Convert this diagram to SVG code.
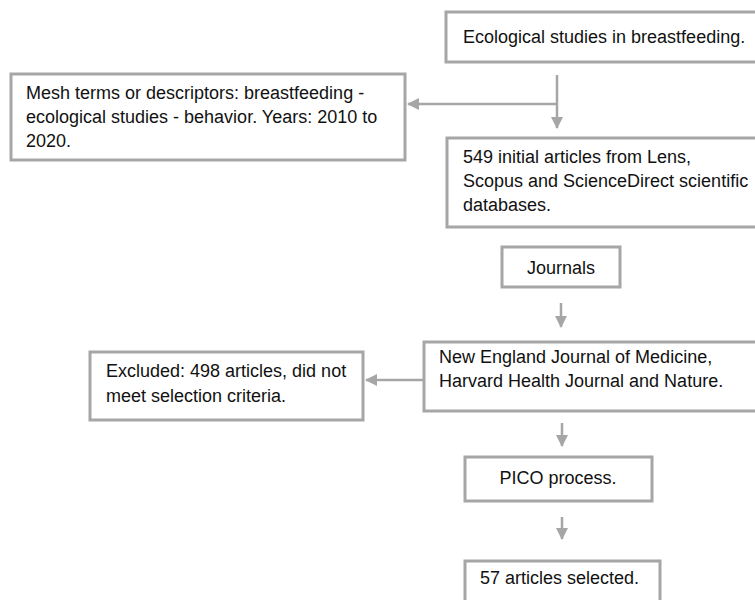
<svg xmlns="http://www.w3.org/2000/svg" width="755" height="600" viewBox="0 0 755 600">
<style>
.box{fill:#ffffff;stroke:#a6a6a6;stroke-width:3}
.t{font-family:"Liberation Sans",Arial,Helvetica,sans-serif;font-size:18px;fill:#111111}
.c{text-anchor:middle}
.conn{fill:none;stroke:#a6a6a6;stroke-width:2.5}
</style>
<defs>
<marker id="ah" markerUnits="userSpaceOnUse" markerWidth="12" markerHeight="12" viewBox="0 0 12 12" refX="11" refY="6" orient="auto">
<path d="M0,0 L12,6 L0,12 Z" fill="#a6a6a6"/>
</marker>
</defs>
<rect width="755" height="600" fill="#ffffff"/>
<g id="connectors">
<path class="conn" d="M557,75 V128" marker-end="url(#ah)"/>
<path class="conn" d="M557,104 H408" marker-end="url(#ah)"/>
<path class="conn" d="M561,303 V327" marker-end="url(#ah)"/>
<path class="conn" d="M424,380 H366" marker-end="url(#ah)"/>
<path class="conn" d="M562,423 V446" marker-end="url(#ah)"/>
<path class="conn" d="M562,517 V539" marker-end="url(#ah)"/>
</g>
<g id="n1">
<rect class="box" x="446" y="12" width="320" height="50"/>
<text class="t" x="463" y="43">Ecological studies in breastfeeding.</text>
</g>
<g id="n2">
<rect class="box" x="11" y="74" width="394" height="86"/>
<text class="t" x="26" y="99">Mesh terms or descriptors: breastfeeding -</text>
<text class="t" x="26" y="123">ecological studies - behavior. Years: 2010 to</text>
<text class="t" x="26" y="147">2020.</text>
</g>
<g id="n3">
<rect class="box" x="447" y="138" width="320" height="89"/>
<text class="t" x="463" y="163">549 initial articles from Lens,</text>
<text class="t" x="463" y="187">Scopus and ScienceDirect scientific</text>
<text class="t" x="463" y="211">databases.</text>
</g>
<g id="n4">
<rect class="box" x="502" y="247" width="118" height="40"/>
<text class="t c" x="561" y="274">Journals</text>
</g>
<g id="n5">
<rect class="box" x="424" y="342" width="340" height="69"/>
<text class="t" x="439" y="363">New England Journal of Medicine,</text>
<text class="t" x="439" y="387">Harvard Health Journal and Nature.</text>
</g>
<g id="n6">
<rect class="box" x="90" y="352" width="273" height="68"/>
<text class="t" x="106" y="377">Excluded: 498 articles, did not</text>
<text class="t" x="106" y="402">meet selection criteria.</text>
</g>
<g id="n7">
<rect class="box" x="465" y="457" width="187" height="44"/>
<text class="t c" x="558" y="484">PICO process.</text>
</g>
<g id="n8">
<rect class="box" x="465" y="561" width="195" height="60"/>
<text class="t" x="480" y="584">57 articles selected.</text>
</g>
</svg>
